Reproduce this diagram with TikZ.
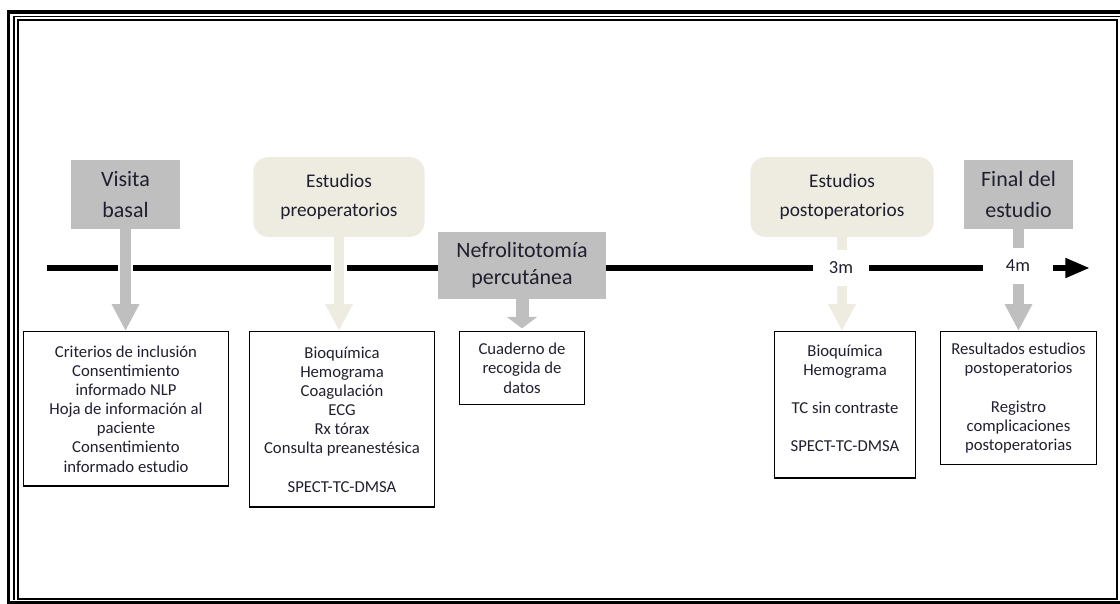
\documentclass[tikz,border=0pt]{standalone}
\usepackage{fontspec}
\setmainfont{Carlito}
\usetikzlibrary{arrows.meta}
\definecolor{hitogris}{HTML}{BFBFBF}
\definecolor{fasebeige}{HTML}{EEECE1}
\definecolor{letra}{HTML}{1F1F2F}
\begin{document}
\begin{tikzpicture}[x=0.02cm,y=-0.02cm,
    hito/.style={fill=hitogris,text=letra,align=center,inner sep=0pt,font=\fontsize{12.5}{17.5}\selectfont},
    fase/.style={fill=fasebeige,rounded corners=8.5pt,text=letra,align=center,inner sep=0pt,font=\fontsize{11}{16.4}\selectfont},
    caja/.style={draw,line width=0.8pt,anchor=north,align=center,inner ysep=6.5pt,text=letra,font=\fontsize{9.5}{10.9}\selectfont},
    flecha/.style={draw=#1,line width=6.2pt,-{Triangle[width=14.7pt,length=15.3pt]}},
    halo/.style={draw=white,line width=9pt},
    mes/.style={fill=white,text=letra,inner sep=0pt,minimum height=20pt,font=\fontsize{10.5}{12}\selectfont}]
    \useasboundingbox (0,0) rectangle (1120,604);

    \draw[line width=2pt] (1125,12) -| (8.5,603) -- (1125,603);
    \draw[line width=0.6pt] (1125,16.5) -| (14,600.5);
    \draw[line width=0.8pt] (18,20) rectangle (1117,599);

    \coordinate (ini) at (47,268);
    \coordinate (fin) at (1090,268);
    \draw[line width=3.4pt,-{Triangle[length=14pt,width=10.5pt]}] (ini) -- (fin);

    \node[hito,minimum width=61.8pt,minimum height=39.1pt](visita)at(125.5,194.5) {Visita\\basal};
    \node[fase,minimum width=97.5pt,minimum height=45.4pt](preop)at(339,197) {Estudios\\preoperatorios};
    \node[hito,minimum width=95.3pt,minimum height=38pt,font=\fontsize{12.5}{15.3}\selectfont](nlp)at(522,265.5) {Nefrolitotomía\\percutánea};
    \node[fase,minimum width=104.3pt,minimum height=45.4pt](postop)at(842,197) {Estudios\\postoperatorios};
    \node[hito,minimum width=62.4pt,minimum height=39.1pt](final)at(1018.5,194.5) {Final del\\estudio};

    \node[caja,minimum width=116.8pt,minimum height=87.9pt](basal)at(126,331) {Criterios de inclusión\\Consentimiento\\informado NLP\\Hoja de información al\\paciente\\Consentimiento\\informado estudio};
    \node[caja,minimum width=105.5pt,minimum height=99.8pt](pre)at(342,331) {Bioquímica\\Hemograma\\Coagulación\\ECG\\Rx tórax\\Consulta preanestésica\\[10.9pt]SPECT-TC-DMSA};
    \node[caja,minimum width=71.4pt,minimum height=40.3pt](cuaderno)at(522,331) {Cuaderno de\\recogida de\\datos};
    \node[caja,minimum width=80.5pt,minimum height=83.3pt](post)at(845,331) {Bioquímica\\Hemograma\\[10.9pt]TC sin contraste\\[10.9pt]SPECT-TC-DMSA\\[-3.5pt]\mbox{}};
    \node[caja,minimum width=89pt,minimum height=74.3pt](resultados)at(1018.5,331) {Resultados estudios\\postoperatorios\\[10.9pt]Registro\\complicaciones\\postoperatorias};

    \draw[halo] (visita.south) -- ++(0,70);
    \draw[halo] (preop.south) -- ++(0,62);
    \draw[flecha=hitogris] (visita.south) -- (visita.south|-basal.north);
    \draw[flecha=fasebeige] (preop.south) -- (preop.south|-pre.north);
    \draw[draw=hitogris,line width=7.4pt,-{Triangle[width=17pt,length=6.5pt]}] (nlp.south) -- ([yshift=1.5pt]cuaderno.north);
    \draw[flecha=fasebeige] (postop.south) -- (postop.south|-post.north);
    \draw[flecha=hitogris] (final.south) -- (final.south|-resultados.north);

    \node[mes,minimum width=32.3pt](tres)at(841,268) {3m};
    \node[mes,minimum width=39.7pt](cuatro)at(1018,266) {4m};
\end{tikzpicture}
\end{document}
